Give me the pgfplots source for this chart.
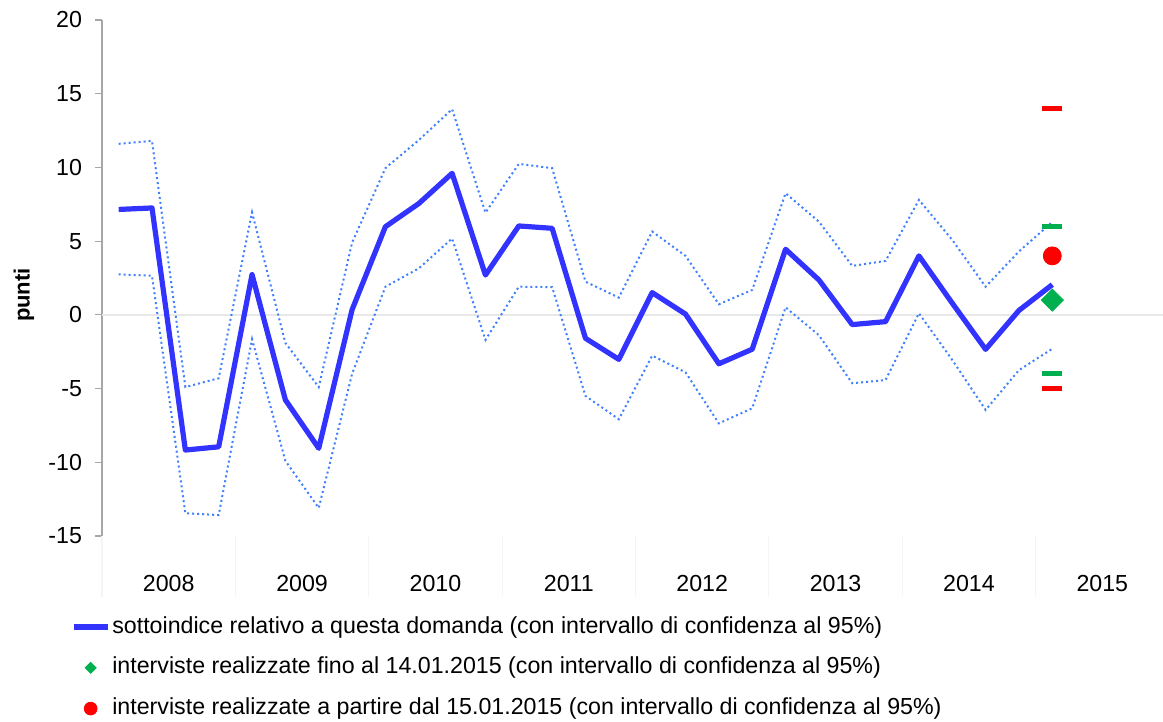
\documentclass[border=0pt]{standalone}
\usepackage{pgfplots}
\usepackage{pgfplotstable}
\pgfplotsset{compat=1.18}
\usepackage{fontspec}
\setmainfont{Liberation Sans}
\definecolor{mainblue}{RGB}{51,51,255}
\definecolor{bandblue}{RGB}{64,128,255}
\definecolor{mgreen}{RGB}{0,176,80}
\definecolor{mred}{RGB}{255,0,0}
\definecolor{axisgray}{RGB}{166,166,166}
\definecolor{zerogray}{RGB}{232,232,232}
\definecolor{sepgray}{RGB}{245,245,245}

\pgfplotstableread{
x main up low
0 7.15 11.6 2.75
1 7.25 11.8 2.65
2 -9.17 -4.9 -13.46
3 -8.95 -4.3 -13.58
4 2.73 6.95 -1.65
5 -5.77 -1.9 -9.9
6 -9.05 -4.9 -13.1
7 0.35 4.9 -4.0
8 5.98 9.95 1.91
9 7.55 11.85 3.15
10 9.6 13.95 5.18
11 2.7 6.93 -1.7
12 6.03 10.24 1.91
13 5.87 9.95 1.88
14 -1.59 2.25 -5.5
15 -3.02 1.17 -7.08
16 1.51 5.65 -2.77
17 0.05 4.0 -3.9
18 -3.32 0.72 -7.36
19 -2.33 1.69 -6.34
20 4.45 8.25 0.51
21 2.37 6.32 -1.38
22 -0.66 3.32 -4.64
23 -0.46 3.66 -4.42
24 4.0 7.8 0.11
25 0.79 5.08 -3.06
26 -2.34 1.91 -6.45
27 0.3 4.3 -3.75
28 2.05 6.3 -2.3
}\datatable

\begin{document}
\begin{tikzpicture}
\begin{axis}[
  scale only axis,
  width=530.5pt, height=258pt,
  xmin=-0.5, xmax=31.32, ymin=-15, ymax=20,
  axis x line*=bottom, axis y line*=left,
  x axis line style={draw=none},
  y axis line style={draw=axisgray, line width=0.75pt},
  ytick={-15,-10,...,20},
  ytick style={draw=axisgray, line width=0.6pt},
  tick align=outside,
  major tick length=3.5pt,
  xtick={1.5,5.5,...,29.5},
  xticklabels={2008,2009,2010,2011,2012,2013,2014,2015},
  xtick style={draw=none},
  extra x ticks={-0.5,3.5,...,27.5},
  extra x tick labels={},
  extra x tick style={major tick length=30.5pt, tick align=outside, xtick style={draw=sepgray, line width=0.6pt}},
  extra y ticks={0},
  extra y tick labels={},
  extra y tick style={grid=major, major grid style={draw=zerogray, line width=0.75pt}},
  /pgf/number format/assume math mode=true,
  ticklabel style={font=\fontsize{11.6}{14}\selectfont},
  xticklabel style={yshift=-12.5pt},
  yticklabel style={xshift=-3pt},
  ylabel={\textbf{punti}},
  every axis y label/.style={at={([xshift=-39pt]rel axis cs:0,0.467)}, rotate=90, anchor=center, font=\fontsize{11}{13}\selectfont},
  legend style={at={(0,0)}, anchor=north west, xshift=-15.5pt, yshift=-39pt,
    draw=none, fill=none, inner sep=0pt, outer sep=0pt, row sep=7.4pt,
    font=\fontsize{11.6}{14}\selectfont,
    nodes={inner sep=1pt, text height=8.5pt, text depth=2.5pt}},
  legend cell align=left,
  clip=false,
]
\coordinate (bl) at (rel axis cs:0,0);
\coordinate (tr) at (rel axis cs:1,1);
\addplot[bandblue, line width=1pt, dash pattern=on 1pt off 1.5pt, forget plot] table[x=x, y=up] {\datatable};
\addplot[bandblue, line width=1pt, dash pattern=on 1pt off 1.5pt, forget plot] table[x=x, y=low] {\datatable};
\addplot[mainblue, line width=2.6pt, line join=round] table[x=x, y=main] {\datatable};
\addlegendentry{sottoindice relativo a questa domanda (con intervallo di confidenza al 95\%)}
\addplot[only marks, mark=-, mark size=5pt, draw=mgreen, mark options={line width=2.4pt}, forget plot] coordinates {(28,6) (28,-4)};
\addplot[only marks, mark=-, mark size=5pt, draw=mred, mark options={line width=2.4pt}, forget plot] coordinates {(28,14) (28,-5)};
\addplot[only marks, mark=square*, mark size=3.9pt, mark options={rotate=45, draw=mgreen, fill=mgreen},
  legend image code/.code={\draw[mark=square*, mark size=1.95pt, mark options={rotate=45, draw=mgreen, fill=mgreen}] plot coordinates {(0.3cm,0cm)};}] coordinates {(28,1)};
\addlegendentry{interviste realizzate fino al 14.01.2015 (con intervallo di confidenza al 95\%)}
\addplot[only marks, mark=*, mark size=4.5pt, mark options={draw=mred, fill=mred},
  legend image code/.code={\draw[mark=*, mark size=3.2pt, mark options={draw=mred, fill=mred}] plot coordinates {(0.3cm,0cm)};}] coordinates {(28,4)};
\addlegendentry{interviste realizzate a partire dal 15.01.2015 (con intervallo di confidenza al 95\%)}
\end{axis}
\pgfresetboundingbox
\path ([shift={(-51pt,-93pt)}]bl) rectangle ([shift={(0pt,10pt)}]tr);
\end{tikzpicture}
\end{document}
